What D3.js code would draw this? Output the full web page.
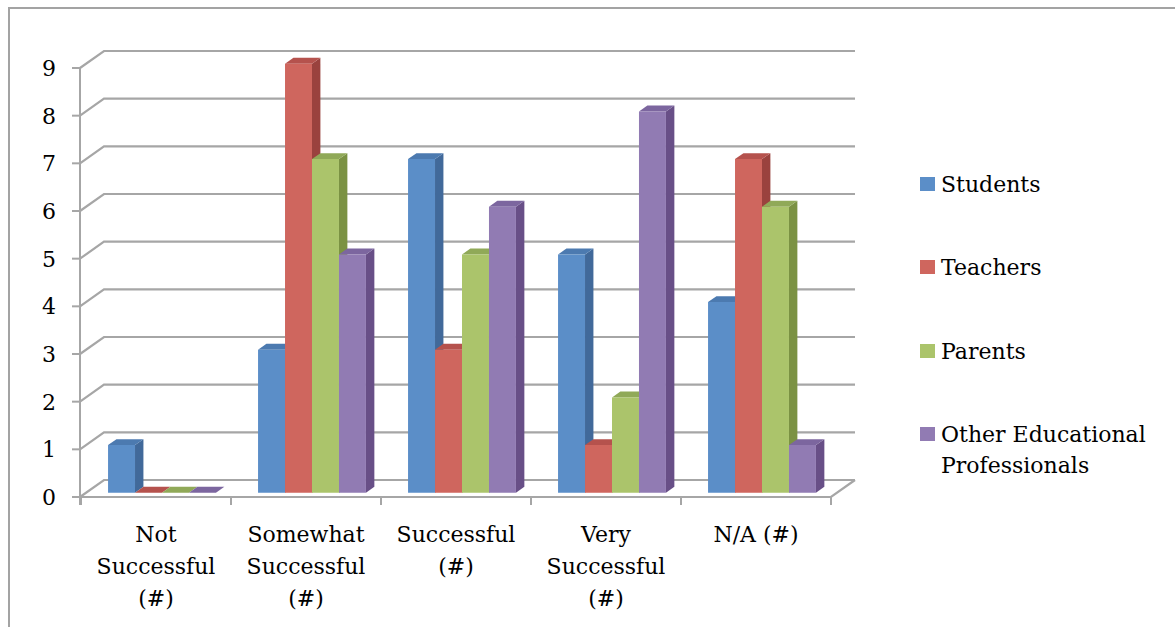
<!DOCTYPE html>
<html>
<head>
<meta charset="utf-8">
<script src="https://cdn.jsdelivr.net/npm/d3@7"></script>
<style>
  html, body { margin: 0; padding: 0; background: #fff; }
  svg { display: block; }
  text { font-family: "DejaVu Serif", serif; fill: #000; }
</style>
</head>
<body>
<svg id="chart" width="1175" height="627"></svg>
<script>
// Response counts by rating and respondent group
const categories = [
  ["Not", "Successful", "(#)"],
  ["Somewhat", "Successful", "(#)"],
  ["Successful", "(#)"],
  ["Very", "Successful", "(#)"],
  ["N/A (#)"]
];
const seriesNames = ["Students", "Teachers", "Parents", "Other Educational Professionals"];
const students = [1, 3, 7, 5, 4];
const teachers = [0, 9, 3, 1, 7];
const parents  = [0, 7, 5, 2, 6];
const others   = [0, 5, 6, 8, 1];
const yTicks = [0, 1, 2, 3, 4, 5, 6, 7, 8, 9];

const seriesValues = [students, teachers, parents, others];
// face colours: front, side, top
const palette = [
  { front: "#5B8EC8", side: "#41699A", top: "#4C7AB0" },
  { front: "#CF665E", side: "#9A423E", top: "#B5524D" },
  { front: "#ABC46B", side: "#7B9243", top: "#90A958" },
  { front: "#917BB3", side: "#684F87", top: "#7C669F" }
];

const svg = d3.select("#chart");
const gridColor = "#A6A6A6";

// outer frame
svg.append("rect")
  .attr("x", 9).attr("y", 8).attr("width", 1200).attr("height", 700)
  .attr("fill", "none").attr("stroke", "#A3A3A3").attr("stroke-width", 2);

// 3D projection parameters
const DX = 24, DY = 17;
const zFront = 0.25, zBack = 0.6;

const catKeys = categories.map((c, i) => i);
const x0 = d3.scaleBand().domain(catKeys).range([81, 831]).padding(0);
const x1 = d3.scaleBand().domain(d3.range(seriesNames.length))
  .range([0, x0.bandwidth()]).paddingInner(0).paddingOuter(0.78);
const y = d3.scaleLinear().domain([0, 9]).range([497, 68]);

const P = (x, v, z) => [x + z * DX, y(v) - z * DY];
const poly = pts => "M" + pts.map(p => p.join(",")).join("L") + "Z";

const g = svg.append("g");

// back wall grid lines and left wall diagonals
yTicks.forEach(v => {
  const a = P(80, v, 0), b = P(80, v, 1), c = P(x0.range()[1], v, 1);
  g.append("path")
    .attr("d", `M${a[0]},${a[1]}L${b[0]},${b[1]}L${c[0]},${c[1]}`)
    .attr("fill", "none").attr("stroke", gridColor).attr("stroke-width", 2.2);
});

// floor front edge and right diagonal
{
  const a = P(80, 0, 0), b = P(831, 0, 0), c = P(831, 0, 1);
  g.append("path")
    .attr("d", `M${a[0]},${a[1]}L${b[0]},${b[1]}L${c[0]},${c[1]}`)
    .attr("fill", "none").attr("stroke", gridColor).attr("stroke-width", 2.2);
}

// vertical value axis with ticks
g.append("line")
  .attr("x1", 80).attr("x2", 80).attr("y1", y(9)).attr("y2", y(0) + 8)
  .attr("stroke", gridColor).attr("stroke-width", 2);
yTicks.forEach(v => {
  g.append("line")
    .attr("x1", 72).attr("x2", 80).attr("y1", y(v)).attr("y2", y(v))
    .attr("stroke", gridColor).attr("stroke-width", 2);
  g.append("text")
    .attr("x", 56).attr("y", y(v)).attr("dy", "0.36em")
    .attr("text-anchor", "end").attr("font-size", 22)
    .text(v);
});

// category ticks
d3.range(categories.length + 1).forEach(i => {
  const xx = 81 + i * x0.step();
  g.append("line")
    .attr("x1", xx).attr("x2", xx).attr("y1", y(0)).attr("y2", y(0) + 8)
    .attr("stroke", gridColor).attr("stroke-width", 2);
});

// bars, drawn left to right so each front face covers the previous side face
const bars = g.append("g");
catKeys.forEach(ci => {
  seriesValues.forEach((vals, si) => {
    const v = vals[ci];
    const xl = x0(ci) + x1(si), xr = xl + x1.bandwidth();
    const col = palette[si];
    const fbl = P(xl, 0, zFront), fbr = P(xr, 0, zFront);
    const ftl = P(xl, v, zFront), ftr = P(xr, v, zFront);
    const bbr = P(xr, 0, zBack), btr = P(xr, v, zBack), btl = P(xl, v, zBack);
    bars.append("path").attr("d", poly([fbr, bbr, btr, ftr])).attr("fill", col.side);
    bars.append("path").attr("d", poly([ftl, ftr, btr, btl])).attr("fill", col.top);
    if (v > 0) {
      bars.append("path").attr("d", poly([fbl, fbr, ftr, ftl])).attr("fill", col.front);
    }
  });
});

// category labels
catKeys.forEach(ci => {
  const cx = x0(ci) + x0.bandwidth() / 2;
  const t = g.append("text").attr("text-anchor", "middle").attr("font-size", 22);
  categories[ci].forEach((line, li) => {
    t.append("tspan").attr("x", cx).attr("y", 542 + li * 32).text(line);
  });
});

// legend
const legend = svg.append("g");
const legendY = [184, 267, 351, 434];
seriesNames.forEach((name, si) => {
  const ly = legendY[si];
  legend.append("rect")
    .attr("x", 920).attr("y", ly - 7).attr("width", 15).attr("height", 14)
    .attr("fill", palette[si].front);
  const words = si === 3 ? ["Other Educational", "Professionals"] : [name];
  const t = legend.append("text").attr("font-size", 22);
  words.forEach((w, wi) => {
    t.append("tspan").attr("x", 941).attr("y", ly + 8 + wi * 31).text(w);
  });
});
</script>
</body>
</html>
